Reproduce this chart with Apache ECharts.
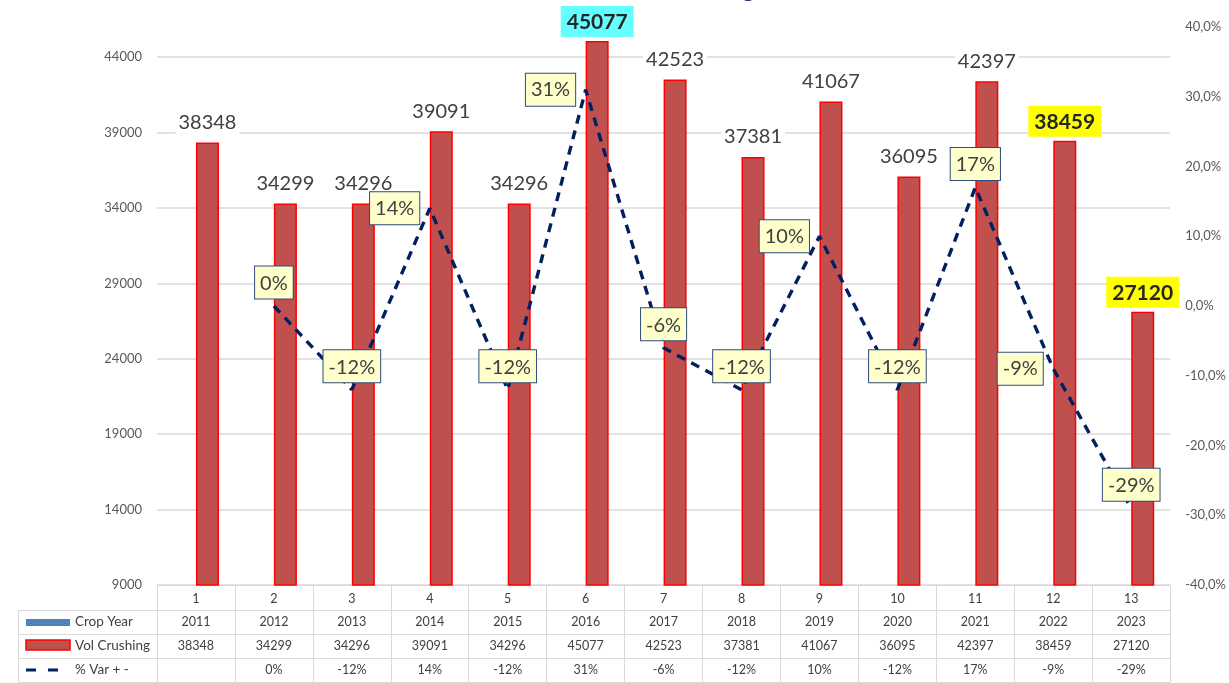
<!DOCTYPE html>
<html>
<head>
<meta charset="utf-8">
<script src="https://cdn.jsdelivr.net/npm/echarts@6/dist/echarts.min.js"></script>
<style>
html,body{margin:0;padding:0;background:#fff;}
#c{width:1229px;height:683px;}
</style>
</head>
<body>
<div id="c"></div>
<script>
// ---- data ----
const categories = ['1','2','3','4','5','6','7','8','9','10','11','12','13'];
const cropYears = [2011,2012,2013,2014,2015,2016,2017,2018,2019,2020,2021,2022,2023];
const volCrushing = [38348,34299,34296,39091,34296,45077,42523,37381,41067,36095,42397,38459,27120];
const pctVar = [null,0,-12,14,-12,31,-6,-12,10,-12,17,-9,-29];
const seriesNames = ['Crop Year','Vol Crushing','% Var + -'];
const titleText = 'Vol Crushing';

// ---- styling helpers (not data) ----
const pctLabelPlacement = [null,'top','top','left','top','left','top','top','left','top','top','left','top'];
const highlight = {5:'#66FFFF', 11:'#FFFF00', 12:'#FFFF00'};
const FONT = 'Lato';
const TXT = '#404040';
const GRIDC = '#D9D9D9';

const chart = echarts.init(document.getElementById('c'), null, {renderer:'canvas'});

const volData = volCrushing.map((v,i) => {
  if (highlight[i] !== undefined) {
    return {value:v, label:{fontWeight:'bold', backgroundColor:highlight[i], padding:[6,6,4,6], distance:4, color:'#262626', fontSize:21}};
  }
  return v;
});
const lineData = pctVar.map((v,i) => v === null ? '-' : {value:v, label:{position:pctLabelPlacement[i], distance: pctLabelPlacement[i]==='left'?10:7}});

chart.setOption({
  animation:false,
  textStyle:{fontFamily:FONT},
  grid:{left:157, right:57, top:27, bottom:98, containLabel:false},
  xAxis:{
    type:'category', data:categories,
    axisLine:{onZero:false, lineStyle:{color:GRIDC, width:1}},
    axisTick:{show:true, length:97, lineStyle:{color:GRIDC}},
    axisLabel:{color:TXT, fontSize:12.5, margin:7, fontFamily:FONT}
  },
  yAxis:[{
    type:'value', min:9000, max:46000, interval:5000,
    axisLine:{show:false}, axisTick:{show:false},
    axisLabel:{color:'#595959', fontSize:13, margin:15, showMaxLabel:false, fontFamily:FONT, formatter:v => String(v)},
    splitLine:{show:true, showMaxLine:false, lineStyle:{color:GRIDC, width:1.5}}
  },{
    type:'value', min:-40, max:40, interval:10,
    axisLine:{show:false}, axisTick:{show:false},
    splitLine:{show:false},
    axisLabel:{color:'#595959', fontSize:13, margin:15, fontFamily:FONT,
      formatter:v => v.toFixed(1).replace('.', ',') + '%'}
  }],
  series:[{
    name:seriesNames[0], type:'bar', data:cropYears, barWidth:23, barGap:'0%', clip:true,
    itemStyle:{color:'#4F81BD'}
  },{
    name:seriesNames[1], type:'bar', data:volData, barWidth:23, barGap:'0%',
    itemStyle:{color:'#C0504D', borderColor:'#FF0000', borderWidth:1.5},
    label:{show:true, position:'top', distance:8, color:TXT, fontSize:20, fontFamily:FONT,
      backgroundColor:'#ffffff', padding:[2,3]}
  },{
    name:seriesNames[2], type:'line', yAxisIndex:1, data:lineData,
    symbol:'circle', symbolSize:1, showSymbol:true, itemStyle:{color:'rgba(0,0,0,0)'},
    lineStyle:{color:'#002060', width:3.4, type:[9,7]},
    z:5,
    label:{show:true, color:TXT, fontSize:20, fontFamily:FONT, backgroundColor:'#FFFFCC',
      borderColor:'#2F4B7C', borderWidth:1, padding:[7,5,5,5],
      formatter:p => p.value + '%'}
  }]
});

// ---- data table under the plot, positioned from the category axis ----
function buildTable(){
  const xs = categories.map((c,i) => chart.convertToPixel({xAxisIndex:0}, i));
  const step = xs[1] - xs[0];
  const right = xs[xs.length-1] + step/2;
  const leftEdge = 18;
  const rowLines = [610, 634, 658, 682];
  const rowMid = [622, 646, 670];
  const els = [];
  rowLines.forEach(y => els.push({type:'line', shape:{x1:leftEdge, y1:y+0.5, x2:right, y2:y+0.5}, style:{stroke:GRIDC, lineWidth:1}}));
  els.push({type:'line', shape:{x1:leftEdge+0.5, y1:rowLines[0], x2:leftEdge+0.5, y2:rowLines[3]}, style:{stroke:GRIDC, lineWidth:1}});
  // legend keys
  els.push({type:'rect', shape:{x:26, y:619, width:44, height:7}, style:{fill:'#4F81BD'}});
  els.push({type:'rect', shape:{x:26, y:640, width:44, height:10}, style:{fill:'#C0504D', stroke:'#FF0000', lineWidth:1.5}});
  els.push({type:'line', shape:{x1:26, y1:670, x2:70, y2:670}, style:{stroke:'#002060', lineWidth:3, lineDash:[10,12]}});
  seriesNames.forEach((n,r) => els.push({type:'text', x:75, y:rowMid[r], style:{text:n, fill:TXT, font:'13.5px ' + FONT, verticalAlign:'middle', align:'left'}}));
  const rows = [cropYears.map(String), volCrushing.map(String), pctVar.map(v => v === null ? '' : v + '%')];
  rows.forEach((vals,r) => vals.forEach((t,i) => els.push({type:'text', x:xs[i], y:rowMid[r], style:{text:t, fill:TXT, font:'12.5px ' + FONT, align:'center', verticalAlign:'middle'}})));
  // clipped title (only its descender shows at the top edge)
  els.push({type:'text', x:754, y:1, style:{text:titleText, fill:'#1F3864', font:'22px ' + FONT, align:'right', verticalAlign:'bottom'}});
  chart.setOption({graphic:{elements:els}});
}
buildTable();
</script>
</body>
</html>
